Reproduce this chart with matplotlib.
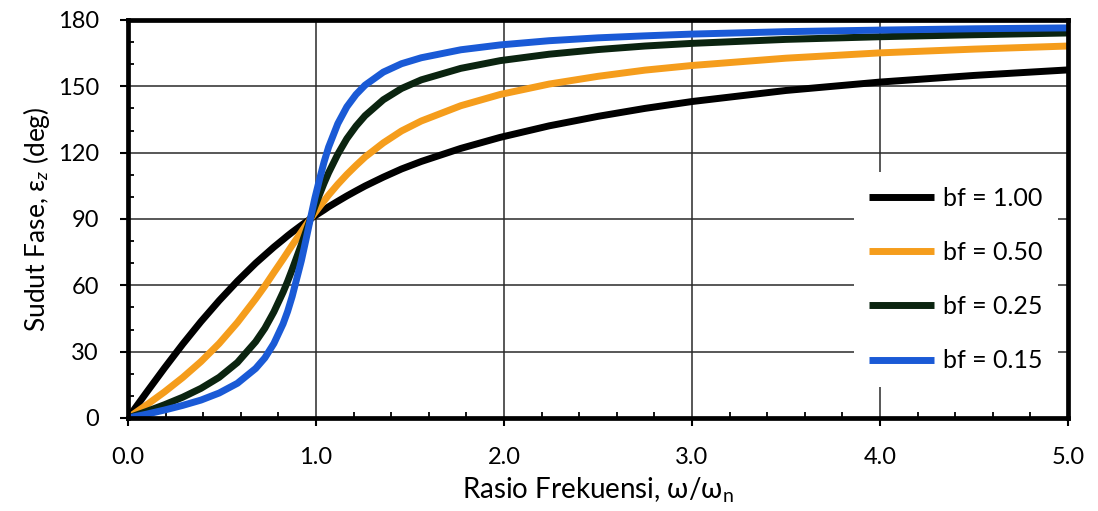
import matplotlib
matplotlib.use("Agg")
import matplotlib.pyplot as plt
from matplotlib.ticker import MultipleLocator

# Frequency ratio samples
ratio = [0, 0.097, 0.194, 0.291, 0.388, 0.485, 0.582, 0.679, 0.728, 0.776, 0.825, 0.849,
         0.873, 0.922, 0.946, 0.97, 0.994, 1.019, 1.043, 1.067, 1.116, 1.164, 1.213, 1.261,
         1.358, 1.455, 1.56, 1.77, 1.98, 2.24, 2.5, 2.75, 3.0, 3.5, 4.0, 4.5, 5.0]

phase_bf100 = [0, 11.4, 22.6, 33.4, 43.6, 53.1, 61.9, 70.0, 73.7, 77.3, 80.7, 82.4, 84.0, 87.1,
               88.6, 90, 91.4, 92.8, 94.1, 95.5, 98.0, 100.4, 102.7, 104.9, 108.9, 112.6, 116.0,
               121.9, 126.9, 132.1, 136.4, 140.0, 143.1, 148.1, 151.9, 154.9, 157.4]
phase_bf050 = [0, 5.8, 11.8, 18.3, 25.5, 33.7, 43.2, 53.9, 59.7, 65.8, 71.9, 75.0, 78.1, 84.1,
               87.1, 90, 92.8, 95.6, 98.2, 100.8, 105.7, 110.1, 114.2, 118.0, 124.4, 129.8, 134.3,
               141.2, 146.3, 151.0, 154.5, 157.3, 159.4, 162.7, 165.1, 166.8, 168.2]
phase_bf025 = [0, 2.9, 6.0, 9.4, 13.4, 18.4, 25.1, 34.5, 40.6, 48.0, 56.9, 61.8, 67.1, 78.4,
               84.2, 90, 95.6, 101.1, 106.2, 110.9, 119.3, 126.3, 132.0, 136.7, 143.9, 149.0, 152.9,
               158.1, 161.6, 164.5, 166.6, 168.2, 169.4, 171.2, 172.4, 173.3, 174.1]
phase_bf015 = [0, 1.7, 3.6, 5.7, 8.1, 11.3, 15.7, 22.4, 27.2, 33.7, 42.6, 48.2, 54.9, 71.1,
               80.4, 90, 99.4, 108.0, 115.8, 122.5, 133.1, 140.7, 146.3, 150.5, 156.4, 160.2, 162.9,
               166.5, 168.7, 170.6, 171.9, 172.8, 173.6, 174.7, 175.4, 176.0, 176.4]

labels = ["bf = 1.00", "bf = 0.50", "bf = 0.25", "bf = 0.15"]
colors = ["#000000", "#f59d1c", "#0b2410", "#1a5ad6"]

xticks = [0.0, 1.0, 2.0, 3.0, 4.0, 5.0]
yticks = [0, 30, 60, 90, 120, 150, 180]

plt.rcParams['font.family'] = ['Lato', 'DejaVu Sans']
plt.rcParams['mathtext.fontset'] = 'custom'
plt.rcParams['mathtext.rm'] = 'Lato'
plt.rcParams['mathtext.it'] = 'Lato:italic'

fig = plt.figure(figsize=(10.98, 5.11), dpi=100)
ax = fig.add_axes([0.1166, 0.182, 0.856, 0.779])

for ys, lab, c in zip([phase_bf100, phase_bf050, phase_bf025, phase_bf015], labels, colors):
    ax.plot(ratio, ys, color=c, lw=5, label=lab, solid_capstyle='butt', zorder=3)

ax.set_xlim(0, 5)
ax.set_ylim(0, 180)
ax.set_xticks(xticks)
ax.set_xticklabels([f"{v:.1f}" for v in xticks])
ax.set_yticks(yticks)
ax.set_yticklabels([str(v) for v in yticks])
ax.xaxis.set_minor_locator(MultipleLocator(0.2))
ax.yaxis.set_minor_locator(MultipleLocator(10))
ax.grid(True, which='major', color='#2a2a2a', lw=1.1, zorder=1)

ax.tick_params(axis='both', which='major', direction='out', length=6, width=1.5,
               labelsize=17, color='black')
ax.tick_params(axis='x', which='major', pad=15)
ax.tick_params(axis='y', which='major', pad=15)
ax.tick_params(axis='both', which='minor', direction='in', length=4, width=1.3)

for s in ['left', 'bottom', 'top', 'right']:
    ax.spines[s].set_linewidth(3.4)
    ax.spines[s].set_color('black')
    ax.spines[s].set_zorder(4)

ax.set_xlabel("Rasio Frekuensi, \u03c9/\u03c9$_\\mathrm{n}$", fontsize=20, labelpad=5)
ax.set_ylabel("Sudut Fase, \u03b5$_z$ (deg)", fontsize=19, labelpad=4)

leg = ax.legend(loc='center', bbox_to_anchor=(0.881, 0.348), fontsize=18, frameon=True,
                facecolor='white', edgecolor='none', framealpha=1, fancybox=False,
                handlelength=2.6, handletextpad=0.35, labelspacing=1.25, borderpad=0.6)
leg.set_zorder(5)

fig.savefig("out.png", dpi=100)
